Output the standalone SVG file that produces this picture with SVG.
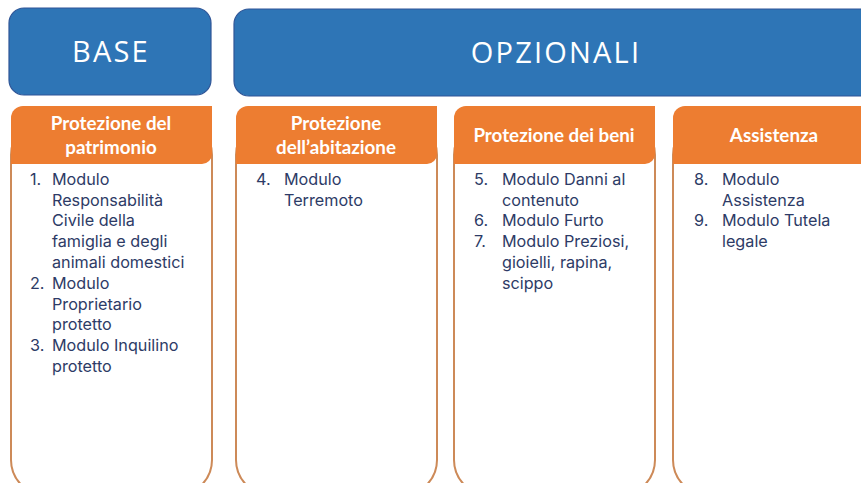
<svg xmlns="http://www.w3.org/2000/svg" width="861" height="483" viewBox="0 0 861 483">
<style>
.top{fill:#2E75B6;stroke:#2F5597;stroke-width:1.2}
.topt{font-family:"Open Sans","Liberation Sans",sans-serif;font-size:29px;fill:#fff;text-anchor:middle;letter-spacing:2.2px}
.body{fill:#fff;stroke:#CD8A58;stroke-width:2}
.hdr{fill:#ED7D31}
.ht{font-family:Lato,"Liberation Sans",sans-serif;font-weight:bold;font-size:18.8px;fill:#fff;text-anchor:middle}
.lt{font-family:Inter,"Liberation Sans",sans-serif;font-size:16.2px;fill:#2D3B66}
</style>
<rect width="861" height="483" fill="#fff"/>
<g id="base">
<rect class="top" x="9" y="8" width="202" height="87" rx="15"/>
<text class="topt" x="111" y="62">BASE</text>
</g>
<g id="opzionali">
<rect class="top" x="234" y="9" width="660" height="87" rx="15"/>
<text class="topt" x="556" y="63">OPZIONALI</text>
</g>
<g id="card1">
<rect class="body" x="11" y="120" width="201" height="375" rx="35"/>
<path class="hdr" d="M23 106H212V154A10 10 0 0 1 202 164H11V118A12 12 0 0 1 23 106Z"/>
<text class="ht"><tspan x="111" y="130">Protezione del</tspan><tspan x="111" y="154">patrimonio</tspan></text>
<text class="lt"><tspan x="30" y="185">1.</tspan><tspan x="52" y="185">Modulo</tspan><tspan x="52" y="206">Responsabilità</tspan><tspan x="52" y="226">Civile della</tspan><tspan x="52" y="247">famiglia e degli</tspan><tspan x="52" y="268">animali domestici</tspan><tspan x="30" y="289">2.</tspan><tspan x="52" y="289">Modulo</tspan><tspan x="52" y="310">Proprietario</tspan><tspan x="52" y="330">protetto</tspan><tspan x="30" y="351">3.</tspan><tspan x="52" y="351">Modulo Inquilino</tspan><tspan x="52" y="372">protetto</tspan></text>
</g>
<g id="card2">
<rect class="body" x="236" y="120" width="201" height="375" rx="35"/>
<path class="hdr" d="M248 106H437V154A10 10 0 0 1 427 164H236V118A12 12 0 0 1 248 106Z"/>
<text class="ht"><tspan x="336" y="130">Protezione</tspan><tspan x="336" y="154">dell’abitazione</tspan></text>
<text class="lt"><tspan x="256" y="185">4.</tspan><tspan x="284" y="185">Modulo</tspan><tspan x="284" y="206">Terremoto</tspan></text>
</g>
<g id="card3">
<rect class="body" x="454" y="120" width="201" height="375" rx="35"/>
<path class="hdr" d="M466 106H655V154A10 10 0 0 1 645 164H454V118A12 12 0 0 1 466 106Z"/>
<text class="ht" x="554" y="142">Protezione dei beni</text>
<text class="lt"><tspan x="474" y="185">5.</tspan><tspan x="502" y="185">Modulo Danni al</tspan><tspan x="502" y="206">contenuto</tspan><tspan x="474" y="226">6.</tspan><tspan x="502" y="226">Modulo Furto</tspan><tspan x="474" y="247">7.</tspan><tspan x="502" y="247">Modulo Preziosi,</tspan><tspan x="502" y="268">gioielli, rapina,</tspan><tspan x="502" y="289">scippo</tspan></text>
</g>
<g id="card4">
<rect class="body" x="673" y="120" width="201" height="375" rx="35"/>
<path class="hdr" d="M685 106H874V154A10 10 0 0 1 864 164H673V118A12 12 0 0 1 685 106Z"/>
<text class="ht" x="774" y="142">Assistenza</text>
<text class="lt"><tspan x="694" y="185">8.</tspan><tspan x="722" y="185">Modulo</tspan><tspan x="722" y="206">Assistenza</tspan><tspan x="694" y="226">9.</tspan><tspan x="722" y="226">Modulo Tutela</tspan><tspan x="722" y="247">legale</tspan></text>
</g>
</svg>
